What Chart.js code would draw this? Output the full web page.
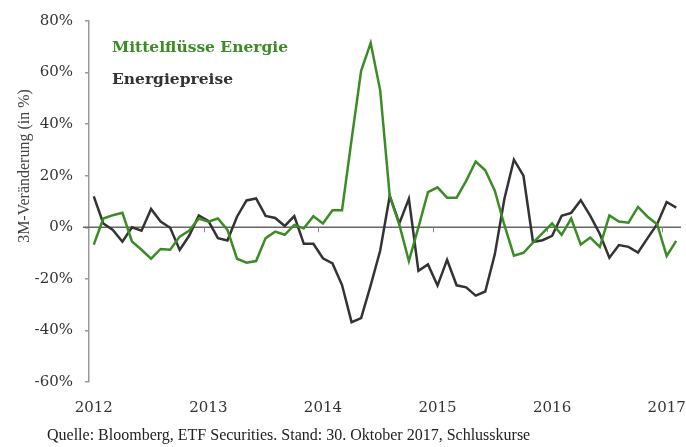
<!DOCTYPE html>
<html>
<head>
<meta charset="utf-8">
<script src="https://cdn.jsdelivr.net/npm/chart.js@4"></script>
<style>
  body { margin: 0; background: #fff; }
  #chart { display: block; }
</style>
</head>
<body>
<canvas id="chart" width="686" height="447"></canvas>
<script>
// Jahre auf der x-Achse, Monatswerte ab Jan 2012
const years = ['2012', '2013', '2014', '2015', '2016', '2017'];

// 3M-Veränderung in %
const mittelfluesse = [
    -6.7, 3.4, 4.7, 5.6, -5.5, -8.7, -12.2, -8.4, -8.7, -3.6, -1.3, 3.4,
    2.2, 3.4, -1.0, -12.2, -13.7, -13.1, -4.2, -1.7, -2.9, 0.9, -0.4, 4.3,
    1.5, 6.6, 6.6, 34.0, 60.7, 71.5, 53.0, 12.0, 1.0, -13.1, 0.0, 13.6,
    15.5, 11.5, 11.5, 18.0, 25.5, 22.1, 14.2, 0.9, -11.0, -9.9, -5.9, -2.3,
    1.5, -2.9, 3.4, -6.7, -4.0, -7.6, 4.6, 2.2, 1.8, 7.9, 4.1, 1.2,
    -11.1, -5.3
];
const energiepreise = [
    12.0, 1.5, -1.0, -5.6, 0.0, -1.3, 7.1, 2.2, -0.2, -8.8, -3.2, 4.6,
    2.5, -4.2, -5.1, 4.1, 10.4, 11.2, 4.4, 3.6, 0.5, 4.3, -6.4, -6.4,
    -12.0, -14.0, -22.4, -36.8, -35.2, -22.5, -9.0, 12.2, 1.5, 11.1, -16.9, -14.4,
    -22.6, -12.6, -22.5, -23.3, -26.5, -24.9, -10.5, 11.0, 26.2, 20.0, -5.7, -5.0,
    -3.3, 4.5, 5.6, 10.5, 4.4, -2.6, -11.8, -6.9, -7.6, -9.8, -4.2, 1.2,
    9.8, 7.6
];

const GREEN = '#3c8c26';
const DARK = '#333333';

// Monatslabels YYYY-MM
const labels = mittelfluesse.map((v, i) => {
    const y = parseInt(years[0]) + Math.floor(i / 12);
    const m = String(i % 12 + 1).padStart(2, '0');
    return `${y}-${m}`;
});

// Nulllinie, Jahresmarken, Legende, Achsentitel, Quelle
const decor = {
    id: 'decor',
    beforeDatasetsDraw(chart) {
        const { ctx, chartArea, scales } = chart;
        const y0 = scales.y.getPixelForValue(0);
        ctx.save();
        ctx.strokeStyle = '#666';
        ctx.lineWidth = 1.5;
        ctx.beginPath();
        ctx.moveTo(chartArea.left - 6, y0);
        ctx.lineTo(chartArea.right, y0);
        ctx.stroke();
        ctx.strokeStyle = '#888';
        ctx.lineWidth = 1;
        labels.forEach((l, i) => {
            if (i > 0 && l.endsWith('-01')) {
                const x = Math.round((scales.x.getPixelForValue(i - 1) + scales.x.getPixelForValue(i)) / 2) + 0.5;
                ctx.beginPath();
                ctx.moveTo(x, y0);
                ctx.lineTo(x, y0 + 5);
                ctx.stroke();
            }
        });
        ctx.restore();
    },
    afterDraw(chart) {
        const { ctx } = chart;
        ctx.save();
        ctx.textBaseline = 'middle';
        ctx.textAlign = 'left';
        ctx.font = 'bold 15.5px "DejaVu Serif"';
        ctx.fillStyle = GREEN;
        ctx.fillText('Mittelflüsse Energie', 112, 48);
        ctx.fillStyle = DARK;
        ctx.fillText('Energiepreise', 112, 80);

        ctx.font = '16px "Liberation Serif"';
        ctx.fillStyle = '#222';
        ctx.fillText('Quelle: Bloomberg, ETF Securities. Stand: 30. Oktober 2017, Schlusskurse', 47, 436);

        ctx.translate(25, 166);
        ctx.rotate(-Math.PI / 2);
        ctx.textAlign = 'center';
        ctx.font = '16px "Liberation Serif"';
        ctx.fillStyle = '#444';
        ctx.fillText('3M-Veränderung (in %)', 0, 0);
        ctx.restore();
    }
};

new Chart(document.getElementById('chart'), {
    type: 'line',
    data: {
        labels: labels,
        datasets: [
            {
                label: 'Mittelflüsse Energie',
                data: mittelfluesse,
                borderColor: GREEN,
                borderWidth: 2.5,
                pointRadius: 0,
                tension: 0
            },
            {
                label: 'Energiepreise',
                data: energiepreise,
                borderColor: DARK,
                borderWidth: 2.5,
                pointRadius: 0,
                tension: 0
            }
        ]
    },
    options: {
        responsive: false,
        animation: false,
        layout: { padding: { top: 15, right: 5, left: 0, bottom: 0 } },
        plugins: {
            legend: { display: false },
            tooltip: { enabled: false }
        },
        scales: {
            x: {
                type: 'category',
                offset: true,
                grid: { display: false },
                border: { display: false },
                ticks: {
                    autoSkip: false,
                    maxRotation: 0,
                    padding: 9,
                    color: '#333',
                    font: { family: 'DejaVu Serif', size: 15 },
                    callback: (v, i) => labels[i].endsWith('-01') ? labels[i].slice(0, 4) : ''
                },
                afterFit: (scale) => { scale.height = 65; }
            },
            y: {
                min: -60,
                max: 80,
                grid: {
                    drawOnChartArea: false,
                    drawTicks: true,
                    tickLength: 4,
                    color: '#999',
                    lineWidth: 1.5
                },
                border: { display: true, color: '#999', width: 1.5 },
                ticks: {
                    stepSize: 20,
                    padding: 12,
                    color: '#333',
                    font: { family: 'DejaVu Serif', size: 15 },
                    callback: (v) => v + '%'
                },
                afterFit: (scale) => { scale.width = 89; }
            }
        }
    },
    plugins: [decor]
});
</script>
</body>
</html>
